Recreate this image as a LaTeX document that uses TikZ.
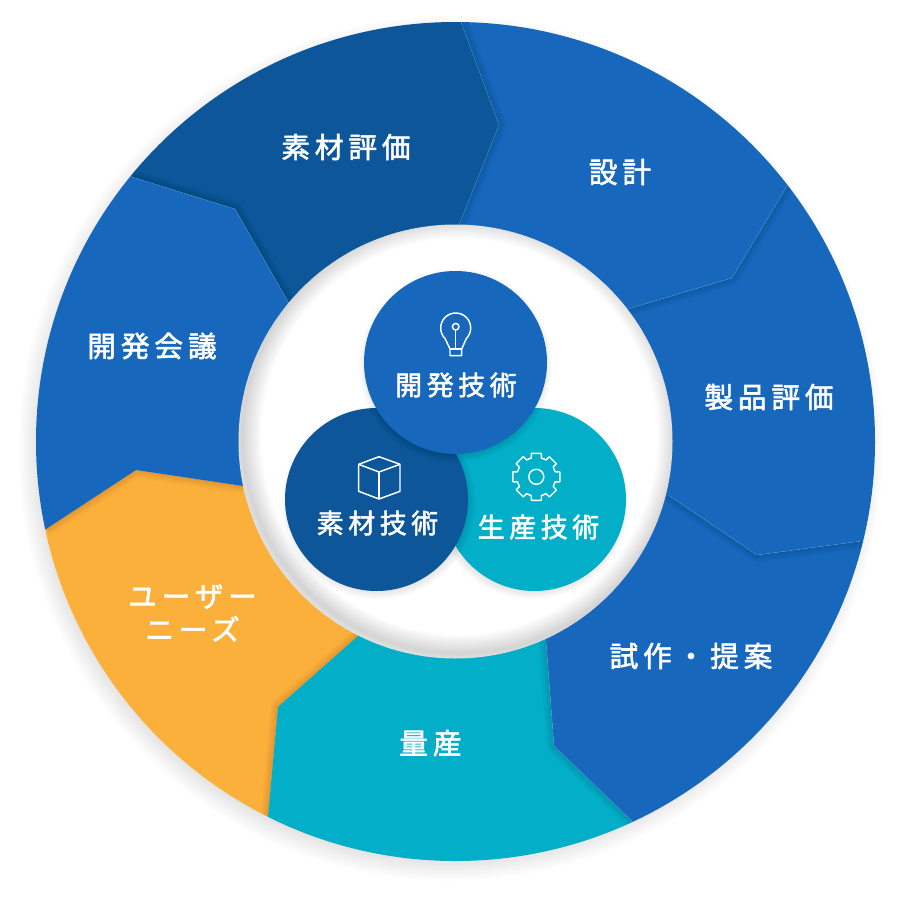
\documentclass[tikz,border=0pt]{standalone}
\usepackage{fontspec}
\usetikzlibrary{calc}
\newfontfamily\jpfont[LetterSpace=17,FakeBold=2]{Noto Sans CJK JP}
\definecolor{midblue}{HTML}{1767BC}
\definecolor{darkblue}{HTML}{0C5699}
\definecolor{tealblue}{HTML}{02AEC8}
\definecolor{amber}{HTML}{FBB03C}
\tikzset{
  seglabel/.style={text=white,font=\jpfont\fontsize{21.5}{25}\selectfont,align=center,inner sep=0pt},
  corelabel/.style={text=white,font=\jpfont\fontsize{20.2}{26}\selectfont,align=center,inner sep=0pt},
  iconline/.style={white,line width=1.1pt,line join=round},
  shade/.style={black,opacity=.006},
  ringshade/.style={black,opacity=.01},
  seam/.style={white,opacity=.2,line width=.35pt,line join=round},
}
\newcommand{\segment}[3]{%
  \fill[#1] (c) -- (i#2) -- (v#2) -- (o#2) -- ($(c)!2!(o#2)$) -- ($(c)!2!(o#3)$)
    -- (o#3) -- (v#3) -- (i#3) -- cycle;}
\newcommand{\edgeshadow}[1]{%
  \foreach \w in {1,...,12}{\draw[shade,line width=\w pt,line join=round] (o#1) -- (v#1) -- (i#1);}}
\newcommand{\seamline}[1]{\draw[seam] (o#1) -- (v#1) -- (i#1);}
\newcommand{\discshadow}[3]{%
  \foreach \k in {-8,...,8}{\fill[shade] (#1) circle[radius=#2+\k*#3];}}
\begin{document}
\begin{tikzpicture}[x=.75pt,y=-.75pt]
      \useasboundingbox (0,0) rectangle (906,899);
      \fill[white] (0,0) rectangle (906,899);
      \coordinate (c) at (455.5,441.5);
      \coordinate (o1) at (461,22);
      \coordinate (v1) at (499,125);
      \coordinate (i1) at (459,225);
      \coordinate (o2) at (787,186);
      \coordinate (v2) at (732,278);
      \coordinate (i2) at (628,309);
      \coordinate (o3) at (862,541);
      \coordinate (v3) at (757,555);
      \coordinate (i3) at (668,495);
      \coordinate (o4) at (632,821);
      \coordinate (v4) at (554,746);
      \coordinate (i4) at (546,641);
      \coordinate (o5) at (268,817);
      \coordinate (v5) at (278,707);
      \coordinate (i5) at (358,636);
      \coordinate (o6) at (46,529);
      \coordinate (v6) at (136,470);
      \coordinate (i6) at (243,486);
      \coordinate (o7) at (132,177);
      \coordinate (v7) at (235,209);
      \coordinate (i7) at (289,303);
      \discshadow{$(c)+(-5,7)$}{419.5}{1.6}
      \begin{scope}
        \clip (c) circle[radius=419.5];
        \segment{amber}{5}{6}
        \edgeshadow{5}
        \segment{tealblue}{4}{5}
        \edgeshadow{4}
        \segment{midblue}{3}{4}
        \seamline{4}
        \edgeshadow{3}
        \segment{midblue}{2}{3}
        \seamline{3}
        \edgeshadow{2}
        \segment{midblue}{1}{2}
        \seamline{2}
        \edgeshadow{1}
        \segment{darkblue}{7}{1}
        \seamline{1}
        \edgeshadow{6}
        \edgeshadow{7}
        \segment{midblue}{6}{7}
        \seamline{7}
      \end{scope}
      \fill[white] (c) circle[radius=217];
      \begin{scope}
        \clip (c) circle[radius=217];
        \foreach \w in {1,...,14}{
          \draw[ringshade,line width=2*\w pt] ($(c)+(4,-5)$) circle[radius=217];
        }
      \end{scope}
      \coordinate (teal) at (534.5,499.5);
      \coordinate (dark) at (376.5,499.5);
      \coordinate (blue) at (455.5,362.5);
      \discshadow{$(teal)+(-2,3)$}{91.5}{.7}
      \fill[tealblue] (teal) circle[radius=91.5];
      \discshadow{$(dark)+(2,3)$}{91.5}{.7}
      \fill[darkblue] (dark) circle[radius=91.5];
      \discshadow{$(blue)+(0,3)$}{91.5}{.7}
      \fill[midblue] (blue) circle[radius=91.5];
      \draw
        (346,147) node[seglabel] (sozaihyoka){素材評価}
        (620,172) node[seglabel] (sekkei){設計}
        (769,397) node[seglabel] (seihin){製品評価}
        (691,656) node[seglabel] (shisaku){試作・提案}
        (430.5,743) node[seglabel] (ryosan){量産}
        (192.5,613) node[seglabel] (needs){ユーザー\\ニーズ}
        (152,346) node[seglabel] (kaigi){開発会議}
        (456,385) node[corelabel] (kaihatsu){開発技術}
        (377.5,523) node[corelabel] (sozai){素材技術}
        (538.5,527) node[corelabel] (seisan){生産技術};
      \begin{scope}[iconline]
        \draw (455.7,328) ++(-10.6,10.6) -- (450,349) -- (450,355.7) -- (461.7,355.7) -- (461.7,349)
          -- (466.3,338.6) arc[start angle=45,end angle=-225,radius=15] -- cycle;
        \draw (450,349) -- (461.7,349);
        \draw (455.7,326.7) circle[radius=3.3];
        \draw (455.7,330) -- (455.7,349);
        \draw (379,456.7) -- (400,464.3) -- (400,491.3) -- (379,499) -- (358.7,491.3) -- (358.7,464.3) -- cycle;
        \draw (358.7,464.3) -- (379,472) -- (400,464.3);
        \draw (379,472) -- (379,499);
        \draw (536.3,476.8) circle[radius=7.5];
        \begin{scope}[shift={(536.3,476.8)}]
          \draw (-15:19.5) \foreach \a in {0,45,...,315}{
            -- (\a-15:19.5) -- (\a-12:24) -- (\a+12:24) -- (\a+15:19.5)
          } -- cycle;
        \end{scope}
      \end{scope}
\end{tikzpicture}
\end{document}
